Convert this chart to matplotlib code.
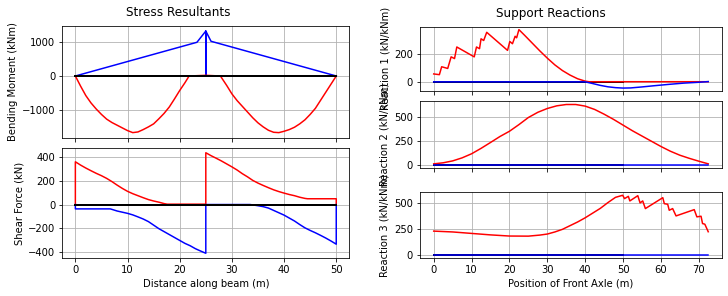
"""Envelope of stress resultants and support reactions for a two-span beam."""
import matplotlib

matplotlib.use("Agg")
import matplotlib.pyplot as plt

L = 50.0  # total beam length (m)

# bending moment envelope (kNm)
bm_max_x = [0, 23.3, 25, 25, 25, 26, 50]
bm_max = [0, 1000, 1333, 0, 1333, 1030, 0]
bm_min_x = [0, 1, 2, 3, 4, 5, 6, 7, 8, 9, 10, 11, 12, 13, 14, 15, 16, 17, 18, 19,
            20, 21, 21.8, 25, 27.8, 29, 30, 31, 32, 33, 34, 35, 36, 37, 38, 39, 40,
            41, 42, 43, 44, 45, 46, 47, 48, 49, 50]
bm_min = [0, -300, -580, -800, -980, -1140, -1280, -1380, -1460, -1540, -1620,
          -1680, -1660, -1590, -1510, -1420, -1270, -1110, -920, -680, -430, -200,
          0, 20, 0, -280, -530, -730, -900, -1070, -1240, -1390, -1510, -1610,
          -1670, -1680, -1640, -1590, -1520, -1420, -1300, -1140, -960, -720,
          -480, -240, 0]

# shear force envelope (kN)
sf_max_x = [0, 0, 1, 2, 3, 4, 5, 6, 7, 8, 9, 10, 11, 12, 13, 14, 15, 16, 17, 17.6,
            25, 25, 26, 27, 28, 29, 30, 31, 32, 33, 34, 35, 36, 37, 38, 39, 40, 41,
            42, 43, 44, 44.5, 50, 50]
sf_max = [0, 363, 335, 310, 287, 265, 245, 222, 195, 165, 137, 112, 92, 75, 58,
          42, 30, 20, 8, 3, 3, 440, 415, 393, 370, 345, 320, 293, 262, 235, 205,
          182, 162, 143, 125, 110, 97, 85, 75, 62, 52, 49, 49, 0]
sf_min_x = [0, 0, 6.7, 8, 9, 10, 11, 12, 13, 14, 15, 16, 17, 18, 19, 20, 21, 22,
            23, 24, 25, 25, 33.5, 35, 36, 37, 38, 39, 40, 41, 42, 43, 44, 45, 46,
            47, 48, 49, 50, 50]
sf_min = [0, -37, -37, -55, -65, -75, -88, -105, -123, -145, -175, -205, -230,
          -255, -280, -305, -330, -350, -375, -395, -414, 0, 0, -10, -18, -30,
          -50, -70, -90, -115, -140, -170, -198, -220, -240, -262, -285, -310,
          -337, 0]

# support reactions vs. front axle position (kN)
r1_max_x = [0, 1.5, 2.1, 3.7, 4.6, 5.5, 6.1, 10.7, 11.3, 12.1, 12.5, 13.2, 14.0,
            19.5, 20.1, 20.8, 21.5, 21.9, 22.5, 24, 26, 28, 30, 32, 34, 36, 38,
            40, 41, 72.5]
r1_max = [56, 51, 107, 95, 177, 165, 247, 177, 247, 235, 305, 293, 351,
          223, 286, 270, 323, 312, 370, 330, 275, 220, 168, 120, 80, 48, 22,
          5, 1, 1]
r1_min_x = [0, 40, 42, 44, 46, 48, 50, 52, 55, 58, 62, 66, 70, 72.5]
r1_min = [0, 0, -12, -25, -35, -41, -44, -43, -36, -28, -18, -9, -3, 2]

r2_max_x = [0, 2.5, 5, 7.5, 10, 12.5, 15, 17.5, 20, 22.5, 25, 27.5, 30, 32.5, 35,
            37.5, 40, 42.5, 45, 47.5, 50, 52.5, 55, 57.5, 60, 62.5, 65, 67.5,
            70, 72.5]
r2_max = [7, 18, 38, 70, 113, 170, 232, 295, 350, 420, 495, 550, 590, 618, 632,
          632, 615, 580, 530, 475, 415, 355, 300, 245, 190, 140, 98, 65, 35, 7]
r2_min_x = [0, 72.5]
r2_min = [0, 0]

r3_max_x = [0, 5, 10, 15, 20, 25, 28, 30, 32, 34, 36, 38, 40, 42, 44, 46, 48,
            49.9, 50.4, 51.4, 51.8, 53.9, 54.5, 55.2, 55.9, 60.5, 60.9, 61.8,
            62.2, 63.1, 64.0, 68.8, 69.5, 70.6, 71.0, 71.6, 72.5]
r3_max = [228, 220, 206, 192, 181, 180, 190, 200, 220, 245, 280, 315, 355, 400,
          445, 500, 550, 570, 538, 560, 516, 566, 497, 516, 443, 547, 490, 484,
          427, 443, 373, 433, 364, 370, 300, 294, 222]
r3_min_x = [0, 72.5]
r3_min = [0, 0]

fig = plt.figure(figsize=(728 / 72, 296 / 72), dpi=72)

# left column: stress resultants
ax_m = fig.add_axes([0.0856, 0.5348, 0.3942, 0.3774])
ax_v = fig.add_axes([0.0856, 0.1274, 0.3942, 0.3736], sharex=ax_m)

ax_m.plot(bm_max_x, bm_max, "b")
ax_m.plot(bm_min_x, bm_min, "r")
ax_m.plot([0, L], [0, 0], "k", lw=2)
ax_m.set_ylabel("Bending Moment (kNm)")
ax_m.grid(True)
ax_m.tick_params(labelbottom=False)

ax_v.plot(sf_max_x, sf_max, "r")
ax_v.plot(sf_min_x, sf_min, "b")
ax_v.plot([0, L], [0, 0], "k", lw=2)
ax_v.set_ylabel("Shear Force (kN)")
ax_v.set_xlabel("Distance along beam (m)")
ax_v.grid(True)

# right column: reactions
lefts = 0.5769
width = 0.4148
ax_r1 = fig.add_axes([lefts, 0.6926, width, 0.2172])
ax_r2 = fig.add_axes([lefts, 0.4341, width, 0.2230], sharex=ax_r1)
ax_r3 = fig.add_axes([lefts, 0.1284, width, 0.2220], sharex=ax_r1)

reactions = [(ax_r1, r1_max_x, r1_max, r1_min_x, r1_min),
             (ax_r2, r2_max_x, r2_max, r2_min_x, r2_min),
             (ax_r3, r3_max_x, r3_max, r3_min_x, r3_min)]
for i, (ax, xmax, ymax, xmin, ymin) in enumerate(reactions):
    ax.plot([0, L], [0, 0], "k", lw=2)
    ax.plot(xmax, ymax, "r")
    ax.plot(xmin, ymin, "b")
    ax.set_ylabel(f"Reaction {i + 1} (kN/kNm)")
    ax.grid(True)
    if i < 2:
        ax.tick_params(labelbottom=False)
ax_r3.set_xlabel("Position of Front Axle (m)")
ax_r3.set_xticks(range(0, 80, 10))

fig.text(178 / 728, 1 - 13 / 296, "Stress Resultants", ha="center", va="center", fontsize=12)
fig.text(551 / 728, 1 - 13 / 296, "Support Reactions", ha="center", va="center", fontsize=12)

fig.savefig("out.png", dpi=72)
plt.close(fig)
